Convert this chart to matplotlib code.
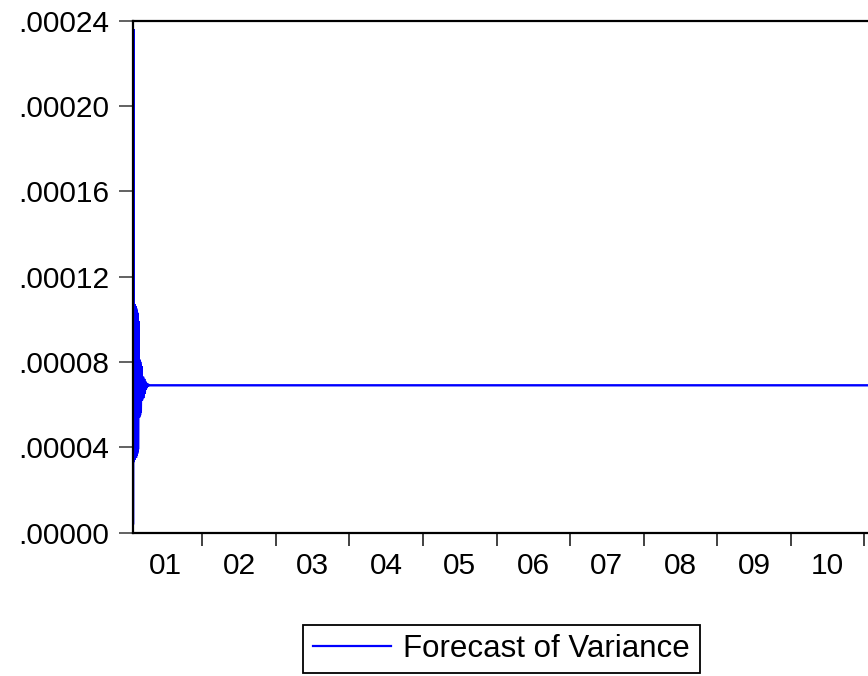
import matplotlib
matplotlib.use("Agg")
import matplotlib.pyplot as plt
from matplotlib.ticker import FixedLocator, FuncFormatter, NullFormatter
import numpy as np
import pandas as pd

# ---- data ----
series_name = "Forecast of Variance"
# first trading day of the forecast sample and last observation
start_date = "2001-01-23"
end_date = "2011-02-20"
# transient part of the variance forecast (daily values)
transient_values = [
    0.0000043, 0.000236,
    0.000033, 0.000107, 0.000034, 0.000107, 0.000034, 0.000106, 0.000035,
    0.000106, 0.000035, 0.000105, 0.000036, 0.000104, 0.000037, 0.000103,
    0.000038, 0.000101, 0.000039, 0.000099,
    0.000054, 0.000081, 0.000054, 0.000081, 0.000055, 0.000080, 0.000056,
    0.000079, 0.000057, 0.000078,
    0.000062, 0.000073, 0.000062, 0.000073, 0.000063, 0.000073, 0.000063,
    0.000072, 0.000064, 0.000072, 0.000065, 0.000071,
    0.0000660, 0.0000710, 0.0000670, 0.0000705, 0.0000675, 0.0000700,
    0.0000680, 0.0000697, 0.0000685, 0.0000694, 0.0000688, 0.0000692,
    0.0000690, 0.0000691, 0.0000690,
]
steady_value = 0.0000690  # long-run (unconditional) variance level
year_ticks = [2002, 2003, 2004, 2005, 2006, 2007, 2008, 2009, 2010, 2011]
year_label_pos = [2001.5, 2002.5, 2003.5, 2004.5, 2005.5, 2006.5, 2007.5,
                  2008.5, 2009.5, 2010.5]
year_labels = ["01", "02", "03", "04", "05", "06", "07", "08", "09", "10"]
y_ticks = [0.0, 0.00004, 0.00008, 0.00012, 0.00016, 0.00020, 0.00024]

# ---- build series ----
dates = list(pd.bdate_range(start_date, periods=len(transient_values)))
dates.append(pd.Timestamp(end_date))
values = list(transient_values) + [steady_value]


def dec_year(ts):
    ts = pd.Timestamp(ts)
    ndays = 366 if ts.is_leap_year else 365
    return ts.year + (ts.dayofyear - 1) / ndays


x = np.array([dec_year(d) for d in dates])
y = np.array(values)

# ---- figure ----
W, H = 868, 676
fig = plt.figure(figsize=(W / 100, H / 100), dpi=100)
left_px, right_px, top_px, bottom_px = 132.5, 880.0, 20.5, 532.5
ax = fig.add_axes([left_px / W, 1 - bottom_px / H,
                   (right_px - left_px) / W, (bottom_px - top_px) / H])

ax.plot(x, y, color="#0000ff", lw=1.7, solid_joinstyle="miter",
        label=series_name)

px_per_year = (864.3 - 202.3) / 9.0
x_left = 2002 - (202.3 - left_px) / px_per_year
x_right = x_left + (right_px - left_px) / px_per_year
ax.set_xlim(x_left, x_right)
ax.set_ylim(0, 0.00024)

font = "Liberation Sans"
ax.xaxis.set_major_locator(FixedLocator(year_ticks))
ax.xaxis.set_major_formatter(NullFormatter())
ax.xaxis.set_minor_locator(FixedLocator(year_label_pos))
ax.xaxis.set_minor_formatter(FuncFormatter(
    lambda v, p: year_labels[year_label_pos.index(round(v, 1))]
    if round(v, 1) in year_label_pos else ""))
ax.tick_params(axis="x", which="major", direction="out", length=9.5,
               width=1.3, color="#333333")
ax.tick_params(axis="x", which="minor", length=0, pad=14, labelsize=21.5)

ax.yaxis.set_major_locator(FixedLocator(y_ticks))
ax.yaxis.set_major_formatter(FuncFormatter(
    lambda v, p: ("%.5f" % v)[1:] if v >= 0 else "%.5f" % v))
ax.tick_params(axis="y", which="major", direction="out", length=10,
               width=1.3, color="#555555", pad=7, labelsize=21.5)

for lab in ax.get_xticklabels(minor=True) + ax.get_yticklabels():
    lab.set_fontfamily(font)

for side in ["left", "bottom", "top"]:
    ax.spines[side].set_linewidth(1.6)
    ax.spines[side].set_color("black")
ax.spines["right"].set_visible(False)

leg = ax.legend(loc="center", bbox_to_anchor=(501.5 / W, 1 - 649 / H),
                bbox_transform=fig.transFigure, frameon=True, fancybox=False,
                edgecolor="black", framealpha=1, handlelength=2.5,
                handletextpad=0.4, borderpad=0.3, borderaxespad=0,
                prop={"family": font, "size": 22.5})
leg.get_frame().set_linewidth(1.3)
for l in leg.get_lines():
    l.set_linewidth(1.6)

fig.savefig("out.png", dpi=100)
